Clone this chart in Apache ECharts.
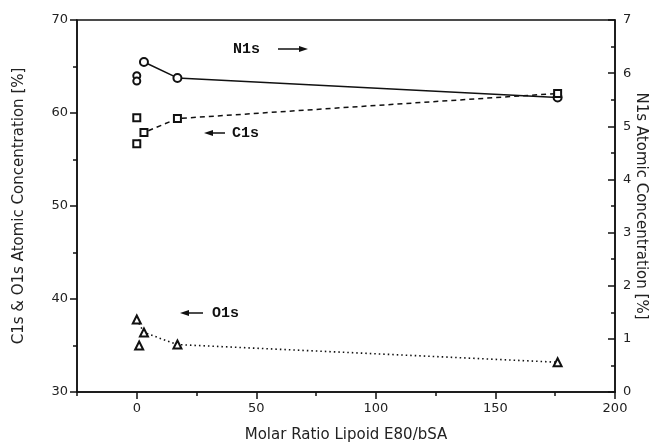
<!DOCTYPE html>
<html>
<head>
<meta charset="utf-8">
<script src="https://cdn.jsdelivr.net/npm/echarts@6/dist/echarts.min.js"></script>
<style>
  html, body { margin: 0; padding: 0; background: #fff; }
  #main { width: 656px; height: 447px; }
</style>
</head>
<body>
<div id="main"></div>
<script>
// molar ratio lipoid E80/bSA
var ratioLine = [0, 3, 17, 176];

// C1s (left axis, %)
var c1sLine = [56.7, 57.9, 59.4, 62.1];
var c1sExtraX = [0];
var c1sExtra = [59.5];

// O1s (left axis, %)
var o1sLine = [37.8, 36.4, 35.1, 33.2];
var o1sExtraX = [1];
var o1sExtra = [35.0];

// N1s (right axis, %)
var n1sLineX = [3, 17, 176];
var n1sLine = [6.21, 5.91, 5.54];
var n1sExtraX = [0, 0];
var n1sExtra = [5.95, 5.85];

var xMajorTicks = [0, 50, 100, 150, 200];
var xMinorTicks = [-25, 25, 75, 125, 175];

function pairs(xs, ys) {
    return xs.map(function (x, i) { return [x, ys[i]]; });
}

var myChart = echarts.init(document.getElementById('main'));

var axisFont = { fontFamily: 'DejaVu Sans', fontSize: 13, color: '#222' };
var titleFont = { fontFamily: 'DejaVu Sans', fontSize: 15, color: '#222' };
var black = '#111';

function arrow(x1, x2, y) {
    // small annotation arrow, head at x2
    var dir = x2 > x1 ? 1 : -1;
    return {
        type: 'group',
        children: [
            { type: 'line', shape: { x1: x1, y1: y, x2: x2 - dir * 6, y2: y }, style: { stroke: black, lineWidth: 1.5 } },
            { type: 'polygon', shape: { points: [[x2, y], [x2 - dir * 9, y - 3], [x2 - dir * 9, y + 3]] }, style: { fill: black } }
        ]
    };
}

function label(text, x, y) {
    return {
        type: 'text', x: x, y: y,
        style: { text: text, fill: black, font: 'bold 15px "Liberation Mono"', textVerticalAlign: 'middle' }
    };
}

var markStyle = { color: black, borderColor: black, borderWidth: 1.7, opacity: 1 };

myChart.setOption({
    backgroundColor: '#fff',
    animation: false,
    grid: {
        left: 77, right: 41, top: 20, bottom: 55, outerBoundsMode: 'none', containLabel: false,
        show: true, borderColor: black, borderWidth: 1.5
    },
    xAxis: [{
        type: 'value', min: -25, max: 200,
        name: 'Molar Ratio Lipoid E80/bSA', nameLocation: 'middle', nameGap: 36,
        nameTextStyle: titleFont,
        axisLine: { onZero: false, lineStyle: { color: black, width: 1.5 } },
        axisTick: { customValues: xMajorTicks, length: 7, lineStyle: { color: black, width: 1.5 } },
        axisLabel: Object.assign({ customValues: xMajorTicks, margin: 10 }, axisFont),
        splitLine: { show: false }
    }, {
        type: 'value', min: -25, max: 200, position: 'bottom',
        axisLine: { show: false, onZero: false },
        axisTick: { customValues: xMinorTicks, length: 4, lineStyle: { color: black, width: 1.5 } },
        axisLabel: { show: false },
        splitLine: { show: false }
    }],
    yAxis: [{
        type: 'value', min: 30, max: 70, interval: 10, position: 'left',
        name: 'C1s & O1s Atomic Concentration [%]', nameLocation: 'middle', nameGap: 50,
        nameTextStyle: titleFont,
        axisLine: { show: true, onZero: false, lineStyle: { color: black, width: 1.5 } },
        axisTick: { length: 7, lineStyle: { color: black, width: 1.5 } },
        minorTick: { show: true, splitNumber: 2, length: 4, lineStyle: { color: black, width: 1.5 } },
        axisLabel: Object.assign({ margin: 9 }, axisFont),
        splitLine: { show: false }
    }, {
        type: 'value', min: 0, max: 7, interval: 1, position: 'right',
        name: 'N1s Atomic Concentration [%]', nameLocation: 'middle', nameGap: 18, nameRotate: -90,
        nameMoveOverlap: false,
        nameTextStyle: titleFont,
        axisLine: { show: true, onZero: false, lineStyle: { color: black, width: 1.5 } },
        axisTick: { inside: true, length: 7, lineStyle: { color: black, width: 1.5 } },
        minorTick: { show: true, splitNumber: 2, length: 4, lineStyle: { color: black, width: 1.5 } },
        axisLabel: Object.assign({ margin: 8 }, axisFont),
        splitLine: { show: false }
    }],
    series: [{
        name: 'N1s', type: 'line', yAxisIndex: 1,
        data: pairs(n1sLineX, n1sLine),
        symbol: 'emptyCircle', symbolSize: 8,
        itemStyle: markStyle,
        lineStyle: { color: black, width: 1.5, type: 'solid' }
    }, {
        name: 'N1s extra', type: 'scatter', yAxisIndex: 1,
        data: pairs(n1sExtraX, n1sExtra),
        symbol: 'emptyCircle', symbolSize: 7,
        itemStyle: markStyle
    }, {
        name: 'C1s', type: 'line',
        data: pairs(ratioLine, c1sLine),
        symbol: 'emptyRect', symbolSize: 7,
        itemStyle: markStyle,
        lineStyle: { color: black, width: 1.5, type: [5, 4] }
    }, {
        name: 'C1s extra', type: 'scatter',
        data: pairs(c1sExtraX, c1sExtra),
        symbol: 'emptyRect', symbolSize: 7,
        itemStyle: markStyle
    }, {
        name: 'O1s', type: 'line',
        data: pairs(ratioLine, o1sLine),
        symbol: 'emptyTriangle', symbolSize: 8,
        itemStyle: markStyle,
        lineStyle: { color: black, width: 1.6, type: [1.5, 3] }
    }, {
        name: 'O1s extra', type: 'scatter',
        data: pairs(o1sExtraX, o1sExtra),
        symbol: 'emptyTriangle', symbolSize: 8,
        itemStyle: markStyle
    }],
    graphic: [
        label('N1s', 233, 49), arrow(278, 308, 49),
        arrow(225, 204, 133), label('C1s', 232, 133),
        arrow(203, 180, 313), label('O1s', 212, 313)
    ]
});
</script>
</body>
</html>
